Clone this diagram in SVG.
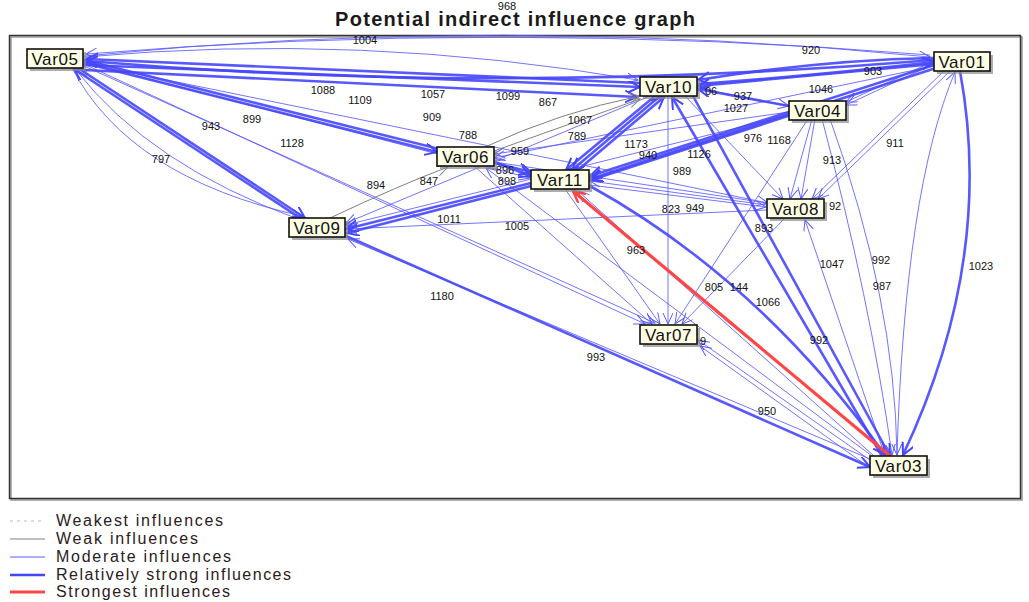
<svg xmlns="http://www.w3.org/2000/svg" width="1029" height="602" viewBox="0 0 1029 602">
<style>
.m{fill:none;stroke:#5c5cff;stroke-width:1;stroke-opacity:.85;marker-end:url(#am)}
.s{fill:none;stroke:#4646ff;stroke-width:2.6;stroke-opacity:.9;marker-end:url(#as)}
.r{fill:none;stroke:#ff4646;stroke-width:3.2;marker-end:url(#ar)}
.w{fill:none;stroke:#808080;stroke-width:1;marker-end:url(#aw)}
.lb{font-family:"Liberation Sans",Arial,sans-serif;font-size:11px;fill:#111;text-anchor:middle}
.nb{fill:#ffffe6;stroke:#111;stroke-width:1.6}
.ns{fill:#8a8a8a;opacity:.7}
.nt{font-family:"Liberation Sans",Arial,sans-serif;font-size:17px;fill:#111;text-anchor:middle;letter-spacing:.6px}
.lg{font-family:"Liberation Sans",Arial,sans-serif;font-size:16px;fill:#2a2020}
</style>
<defs>
<marker id="am" markerUnits="userSpaceOnUse" markerWidth="14" markerHeight="12" refX="11" refY="5" orient="auto"><path d="M0,0 L11,5 L0,10" fill="none" stroke="#5c5cff" stroke-width="1"/></marker>
<marker id="as" markerUnits="userSpaceOnUse" markerWidth="16" markerHeight="14" refX="12" refY="6" orient="auto"><path d="M0,0 L12,6 L0,12" fill="none" stroke="#4646ff" stroke-width="2"/></marker>
<marker id="ar" markerUnits="userSpaceOnUse" markerWidth="16" markerHeight="14" refX="12" refY="6" orient="auto"><path d="M0,0 L12,6 L0,12" fill="none" stroke="#ff4646" stroke-width="2.4"/></marker>
<marker id="aw" markerUnits="userSpaceOnUse" markerWidth="14" markerHeight="12" refX="11" refY="5" orient="auto"><path d="M0,0 L11,5 L0,10" fill="none" stroke="#808080" stroke-width="1"/></marker>
</defs>
<rect width="1029" height="602" fill="#fff"/>
<text x="335" y="26" font-family="Liberation Sans,Arial,sans-serif" font-size="20" font-weight="bold" fill="#1a1a1a" textLength="360" lengthAdjust="spacing">Potential indirect influence graph</text>
<rect x="11" y="37" width="1011" height="463" fill="none" stroke="#999" stroke-width="1.5"/>
<rect x="9.5" y="35.5" width="1011" height="463" fill="none" stroke="#333" stroke-width="1.5"/>
<g id="connectors">
<path class="m" d="M84,56 Q500,14 930,57"/>
<path class="m" d="M930,55 Q500,20 86,54"/>
<path class="m" d="M84,57 Q360,32 638,80"/>
<path class="m" d="M84,64 L645,324"/>
<path class="m" d="M84,66 L655,323"/>
<path class="m" d="M84,63 L768,203"/>
<path class="m" d="M84,62 L530,178"/>
<path class="m" d="M72,68 Q130,178 302,216"/>
<path class="m" d="M298,219 Q150,165 76,70"/>
<path class="m" d="M474,166 L652,324"/>
<path class="m" d="M565,189 L660,324"/>
<path class="m" d="M668,96 L668,324"/>
<path class="m" d="M808,119 L675,324"/>
<path class="m" d="M785,218 L682,324"/>
<path class="m" d="M870,460 L698,340"/>
<path class="m" d="M870,468 L700,346"/>
<path class="m" d="M870,459 L348,239"/>
<path class="m" d="M872,456 L486,168"/>
<path class="m" d="M874,456 L578,191"/>
<path class="m" d="M885,456 L805,220"/>
<path class="m" d="M822,119 Q870,300 892,455"/>
<path class="m" d="M830,119 Q895,300 897,455"/>
<path class="m" d="M945,70 L812,199"/>
<path class="m" d="M950,71 L818,199"/>
<path class="m" d="M815,119 L801,199"/>
<path class="m" d="M812,119 L790,199"/>
<path class="m" d="M685,96 L783,199"/>
<path class="m" d="M897,455 Q905,190 955,72"/>
<path class="m" d="M934,64 L846,105"/>
<path class="m" d="M934,61 L846,102"/>
<path class="m" d="M934,66 L494,158"/>
<path class="m" d="M789,112 L494,154"/>
<path class="m" d="M789,115 L346,225"/>
<path class="m" d="M650,96 L346,223"/>
<path class="m" d="M767,205 L590,181"/>
<path class="m" d="M590,185 L766,207"/>
<path class="m" d="M767,210 L346,229"/>
<path class="m" d="M767,203 L494,162"/>
<path class="m" d="M697,88 L789,106"/>
<path class="s" d="M84,65 L640,87"/>
<path class="s" d="M84,70 L637,97"/>
<path class="s" d="M640,83 L86,59"/>
<path class="s" d="M934,60 Q500,96 86,61"/>
<path class="s" d="M934,58 Q820,60 698,80"/>
<path class="s" d="M934,64 L698,86"/>
<path class="s" d="M698,84 Q820,75 934,62"/>
<path class="s" d="M934,65 L590,176"/>
<path class="s" d="M936,68 L591,180"/>
<path class="s" d="M789,114 L590,179"/>
<path class="s" d="M660,96 L572,170"/>
<path class="s" d="M655,96 L566,170"/>
<path class="s" d="M578,170 L664,97"/>
<path class="s" d="M789,106 L698,89"/>
<path class="s" d="M84,63 L437,152"/>
<path class="s" d="M84,60 L531,172"/>
<path class="s" d="M494,162 L531,176"/>
<path class="s" d="M531,183 L346,229"/>
<path class="s" d="M531,186 L347,233"/>
<path class="s" d="M78,68 L305,218"/>
<path class="s" d="M300,218 L74,69"/>
<path class="s" d="M346,236 L870,467"/>
<path class="s" d="M590,186 Q760,280 885,455"/>
<path class="s" d="M882,456 L672,97"/>
<path class="s" d="M693,96 L890,456"/>
<path class="s" d="M960,71 Q995,260 903,455"/>
<path class="r" d="M890,456 L573,191"/>
<path class="w" d="M485,147 Q560,112 640,96"/>
<path class="w" d="M494,151 L640,99"/>
<path class="w" d="M330,218 Q400,185 448,167"/>
</g>
<g id="edge-labels">
<text class="lb" x="507" y="10" font-size="9">968</text>
<text class="lb" x="365" y="44">1004</text>
<text class="lb" x="811" y="54">920</text>
<text class="lb" x="873" y="75">903</text>
<text class="lb" x="323" y="94">1088</text>
<text class="lb" x="360" y="104">1109</text>
<text class="lb" x="433" y="98">1057</text>
<text class="lb" x="508" y="100">1099</text>
<text class="lb" x="548" y="106">867</text>
<text class="lb" x="821" y="93">1046</text>
<text class="lb" x="743" y="100">937</text>
<text class="lb" x="736" y="112">1027</text>
<text class="lb" x="711" y="95">06</text>
<text class="lb" x="211" y="130">943</text>
<text class="lb" x="252" y="123">899</text>
<text class="lb" x="292" y="147">1128</text>
<text class="lb" x="161" y="163">797</text>
<text class="lb" x="432" y="121">909</text>
<text class="lb" x="468" y="139">788</text>
<text class="lb" x="580" y="124">1067</text>
<text class="lb" x="577" y="140">789</text>
<text class="lb" x="520" y="155">959</text>
<text class="lb" x="636" y="148">1173</text>
<text class="lb" x="648" y="159">940</text>
<text class="lb" x="753" y="142">976</text>
<text class="lb" x="779" y="144">1168</text>
<text class="lb" x="699" y="158">1126</text>
<text class="lb" x="832" y="164">913</text>
<text class="lb" x="895" y="147">911</text>
<text class="lb" x="682" y="175">989</text>
<text class="lb" x="376" y="189">894</text>
<text class="lb" x="429" y="185">847</text>
<text class="lb" x="505" y="174">896</text>
<text class="lb" x="507" y="185">898</text>
<text class="lb" x="671" y="213">823</text>
<text class="lb" x="695" y="212">949</text>
<text class="lb" x="835" y="210">92</text>
<text class="lb" x="764" y="232">893</text>
<text class="lb" x="449" y="223">1011</text>
<text class="lb" x="517" y="230">1005</text>
<text class="lb" x="636" y="254">963</text>
<text class="lb" x="881" y="264">992</text>
<text class="lb" x="832" y="268">1047</text>
<text class="lb" x="981" y="270">1023</text>
<text class="lb" x="882" y="290">987</text>
<text class="lb" x="714" y="291">805</text>
<text class="lb" x="739" y="291">144</text>
<text class="lb" x="768" y="306">1066</text>
<text class="lb" x="442" y="300">1180</text>
<text class="lb" x="819" y="344">992</text>
<text class="lb" x="596" y="361">993</text>
<text class="lb" x="767" y="415">950</text>
<text class="lb" x="703" y="345">9</text>
</g>
<g id="var05"><rect class="ns" x="30" y="52" width="56" height="19"/><rect class="nb" x="27" y="49" width="56" height="19"/><text class="nt" x="55" y="65">Var05</text></g>
<g id="var01"><rect class="ns" x="937" y="55" width="56" height="19"/><rect class="nb" x="934" y="52" width="56" height="19"/><text class="nt" x="962" y="68">Var01</text></g>
<g id="var10"><rect class="ns" x="643" y="80" width="57" height="19"/><rect class="nb" x="640" y="77" width="57" height="19"/><text class="nt" x="668.5" y="93">Var10</text></g>
<g id="var04"><rect class="ns" x="792" y="104" width="57" height="19"/><rect class="nb" x="789" y="101" width="57" height="19"/><text class="nt" x="817.5" y="117">Var04</text></g>
<g id="var06"><rect class="ns" x="440" y="150" width="57" height="19"/><rect class="nb" x="437" y="147" width="57" height="19"/><text class="nt" x="465.5" y="163">Var06</text></g>
<g id="var11"><rect class="ns" x="534" y="173" width="58" height="19"/><rect class="nb" x="531" y="170" width="58" height="19"/><text class="nt" x="560" y="186">Var11</text></g>
<g id="var08"><rect class="ns" x="770" y="202" width="57" height="19"/><rect class="nb" x="767" y="199" width="57" height="19"/><text class="nt" x="795.5" y="215">Var08</text></g>
<g id="var09"><rect class="ns" x="292" y="221" width="56" height="19"/><rect class="nb" x="289" y="218" width="56" height="19"/><text class="nt" x="317" y="234">Var09</text></g>
<g id="var07"><rect class="ns" x="643" y="328" width="57" height="19"/><rect class="nb" x="640" y="325" width="57" height="19"/><text class="nt" x="668.5" y="341">Var07</text></g>
<g id="var03"><rect class="ns" x="873" y="459" width="57" height="19"/><rect class="nb" x="870" y="456" width="57" height="19"/><text class="nt" x="898.5" y="472">Var03</text></g>
<g id="legend">
<line x1="10" y1="521" x2="45" y2="521" stroke="#bbb" stroke-width="1" stroke-dasharray="3,4"/>
<line x1="10" y1="539" x2="45" y2="539" stroke="#808080" stroke-width="1"/>
<line x1="10" y1="557" x2="45" y2="557" stroke="#5c5cff" stroke-width="1"/>
<line x1="10" y1="575" x2="45" y2="575" stroke="#4646ff" stroke-width="2.6"/>
<line x1="10" y1="592" x2="45" y2="592" stroke="#ff4646" stroke-width="3"/>
<text class="lg" x="56" y="526" textLength="167" lengthAdjust="spacing">Weakest influences</text>
<text class="lg" x="56" y="544" textLength="142" lengthAdjust="spacing">Weak influences</text>
<text class="lg" x="56" y="562" textLength="175" lengthAdjust="spacing">Moderate influences</text>
<text class="lg" x="56" y="580" textLength="235" lengthAdjust="spacing">Relatively strong influences</text>
<text class="lg" x="56" y="597" textLength="174" lengthAdjust="spacing">Strongest influences</text>
</g>
</svg>
